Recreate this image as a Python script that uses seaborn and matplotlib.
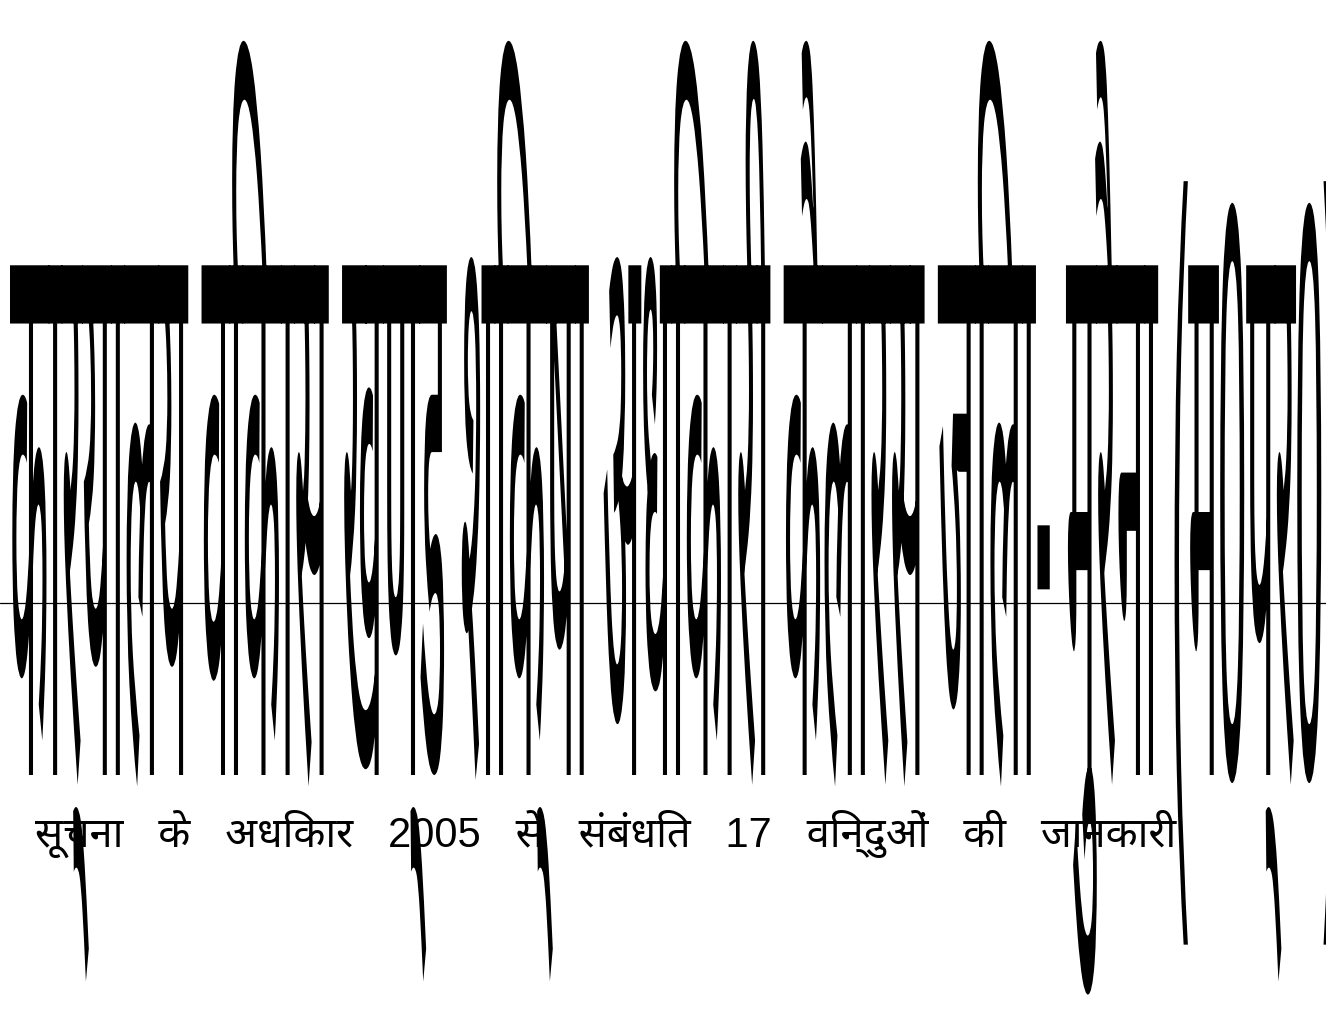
import matplotlib
matplotlib.use("Agg")
import matplotlib.pyplot as plt
import seaborn as sns
from matplotlib import font_manager
from matplotlib.patheffects import AbstractPathEffect
from matplotlib.transforms import Affine2D

# heading words (big, squeezed) and the sub heading
title_words = ["कार्यालय", "विकास", "खण्ड", "शिक्षा", "अधिकारी",
               "कैलारस", "जिला-", "मुरैना", "(म0प्र0)"]
subtitle_words = ["सूचना", "के", "अधिकार", "2005", "से", "संबंधित",
                  "17", "विन्दुओं", "की", "जानकारी"]


class Squeeze(AbstractPathEffect):
    """scale the drawn text path around its origin"""
    def __init__(self, sx=1.0, sy=1.0):
        super().__init__()
        self.sx = sx
        self.sy = sy

    def draw_path(self, renderer, gc, tpath, affine, rgbFace=None):
        m = affine.get_matrix().copy()
        m[0, :2] *= self.sx
        m[1, :2] *= self.sy
        renderer.draw_path(gc, tpath, Affine2D(m), rgbFace)


def pick_font(cands):
    for name in cands:
        try:
            font_manager.findfont(name, fallback_to_default=False)
            return name
        except Exception:
            continue
    return "DejaVu Sans"


sns.set_theme(style="white")
deva = pick_font(["Noto Sans Devanagari", "Hind", "Mukta", "Yantramanav", "Poppins"])
plt.rcParams['font.family'] = ['Liberation Sans', deva, 'DejaVu Sans']

W, H = 1326, 1018
fig = plt.figure(figsize=(W / 100, H / 100), dpi=100)
ax = fig.add_axes([0, 0, 1, 1])
ax.set_xlim(0, W)
ax.set_ylim(H, 0)
ax.axis("off")

# thin rule across the page
ax.axhline(603, color="black", lw=0.9, zorder=1)

renderer = fig.canvas.get_renderer()

# sub heading (wide word gaps like the original)
sub = ax.text(35, 847, "   ".join(subtitle_words), fontsize=30, color="black",
              ha="left", va="baseline", zorder=2)

# big heading, drawn huge and squeezed sideways
title = ax.text(10, 775, " ".join(title_words), fontsize=590, color="black",
                ha="left", va="baseline", zorder=3)
natural = title.get_window_extent(renderer).width
title.set_path_effects([Squeeze(sx=1330 / natural)])

fig.savefig("out.png", dpi=100)
